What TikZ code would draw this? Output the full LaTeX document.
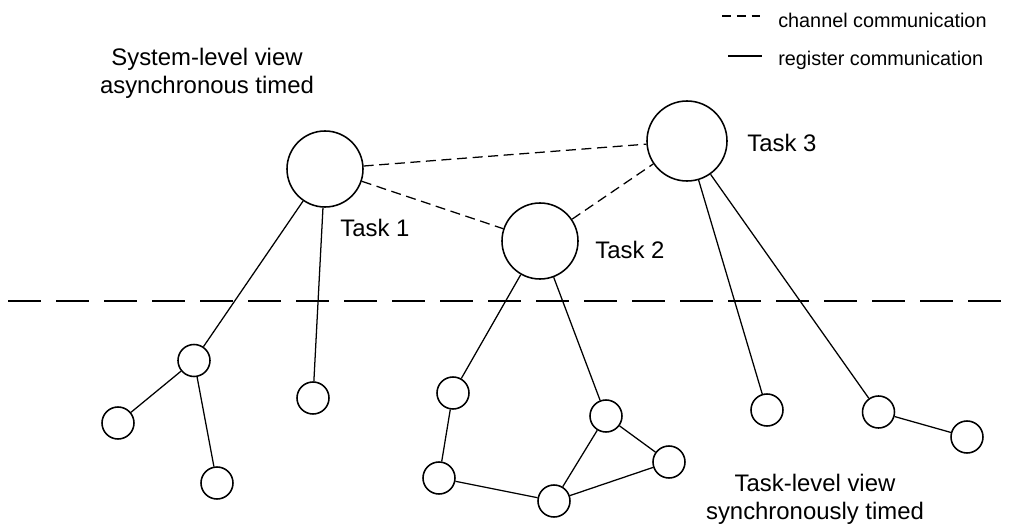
\documentclass[tikz,border=0pt]{standalone}
\usepackage{fontspec}
\setmainfont{Liberation Sans}
\usetikzlibrary{positioning}
\tikzset{
  task/.style={draw, circle, line width=1.1pt, minimum size=1.9cm, inner sep=0pt},
  sub/.style={draw, circle, line width=1.1pt, minimum size=0.8cm, inner sep=0pt},
  reg/.style={line width=0.9pt},
  chan/.style={line width=0.9pt, dash pattern=on 0.25cm off 0.14cm},
  lbl/.style={font=\fontsize{17}{19.9}\selectfont, inner sep=0pt, align=center},
  legend/.style={font=\fontsize{14.1}{16}\selectfont, inner sep=0pt, anchor=west}
}
\begin{document}
\begin{tikzpicture}[x=0.025cm, y=-0.025cm]
\useasboundingbox (0,0) rectangle (1015,531);
    % legend
    \coordinate (chanL) at (722,16);
    \coordinate (chanR) at (762,16);
    \coordinate (regL) at (728,56);
    \coordinate (regR) at (762,56);
    \draw[line width=0.9pt, dash pattern=on 0.22cm off 0.15cm] (chanL) -- (chanR);
    \draw[reg] (regL) -- (regR);
    \node[legend] (chantxt) at (778,20.7) {channel communication};
    \node[legend] (regtxt) at (778,60) {register communication};
    % the two views
    \node[lbl] (sysview) at (207,73.5) {System-level view\\asynchronous timed};
    \node[lbl] (taskview) at (815,499) {Task-level view\\synchronously timed};
    \coordinate (sepL) at (8,301);
    \coordinate (sepR) at (1002,301);
    \draw[line width=1pt, dash pattern=on 0.825cm off 0.375cm] (sepL) -- (sepR);
    % tasks
    \node[task] (t1) at (325,169) {};
    \node[task] (t2) at (540,241) {};
    \node[task, minimum size=2cm] (t3) at (687,141) {};
    \node[lbl] (t1txt) at (375,228) {Task 1};
    \node[lbl] (t2txt) at (630,250) {Task 2};
    \node[lbl] (t3txt) at (782,143) {Task 3};
    \foreach \a/\b in {t1/t3, t1/t2, t2/t3} {
        \draw[chan] (\a) -- (\b);
    }
    % task-level nodes
    \foreach \n/\x/\y in {s1a/194/360.5, s1b/118/423, s1c/217/483, s1d/313/398,
                          s2a/453/393, s2b/439/478, s2c/554/501, s2d/606/416, s2e/669/462,
                          s3a/767/410, s3b/878.5/412, s3c/967/437} {
        \node[sub] (\n) at (\x,\y) {};
    }
    \foreach \a/\b in {t1/s1a, s1a/s1b, s1a/s1c, t1/s1d,
                       t2/s2a, s2a/s2b, s2b/s2c, s2c/s2d, s2c/s2e, s2d/s2e, t2/s2d,
                       t3/s3a, t3/s3b, s3b/s3c} {
        \draw[reg] (\a) -- (\b);
    }
\end{tikzpicture}
\end{document}
